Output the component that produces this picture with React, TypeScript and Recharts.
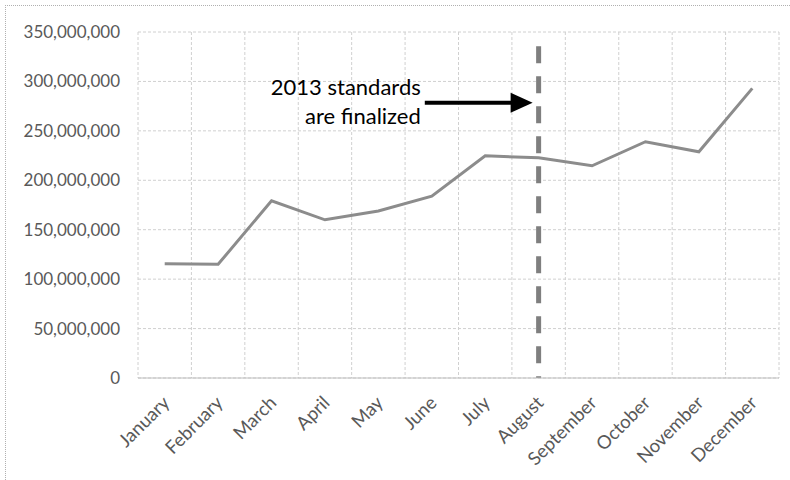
import React from "react";
import {
  LineChart,
  Line,
  XAxis,
  YAxis,
  CartesianGrid,
  ReferenceLine,
} from "recharts";

const months = [
  "January",
  "February",
  "March",
  "April",
  "May",
  "June",
  "July",
  "August",
  "September",
  "October",
  "November",
  "December",
];

const volumes = [
  115500000, 115000000, 179300000, 160000000, 169000000, 184000000,
  224800000, 222700000, 214700000, 239000000, 228800000, 293000000,
];

const yTicks = [0, 50000000, 100000000, 150000000, 200000000, 250000000, 300000000, 350000000];

const markerMonth = "August";
const arrowFrom = "June";
const arrowLevel = 278500000;
const markerTop = 335500000;
const noteLines = ["2013 standards", "are finalized"];

const data = months.map((m, i) => ({ month: m, value: volumes[i] }));

const FONT = "Lato, 'Open Sans', sans-serif";
const TEXT = "#595959";

// month labels: slanted, ending just under the point
function MonthTick({ x, y, payload }: any) {
  return (
    <text
      transform={`translate(${x + 6},${y + 26}) rotate(-45)`}
      textAnchor="end"
      fontFamily={FONT}
      fontSize={18.5}
      fill={TEXT}
    >
      {payload.value}
    </text>
  );
}

function ArrowShape(props: any) {
  const { x1, y1, x2 } = props;
  if (x1 == null || y1 == null) return null;
  const start = x1 - 7;
  const tip = x2 - 6;
  return (
    <g>
      <line x1={start} y1={y1} x2={tip - 20} y2={y1} stroke="#000" strokeWidth={4} />
      <polygon points={`${tip - 22},${y1 - 10} ${tip},${y1} ${tip - 22},${y1 + 10}`} fill="#000" />
      <text x={start - 4} y={y1 - 8} textAnchor="end" fontFamily={FONT} fontSize={22} fill="#000">
        {noteLines[0]}
      </text>
      <text x={start - 4} y={y1 + 21} textAnchor="end" fontFamily={FONT} fontSize={22} fill="#000">
        {noteLines[1]}
      </text>
    </g>
  );
}

export default function App() {
  return (
    <div
      style={{
        position: "fixed",
        left: 0,
        top: 0,
        width: 790,
        height: 480,
        overflow: "hidden",
        background: "#fff",
      }}
    >
      <div
        style={{
          position: "absolute",
          left: 5,
          top: 5,
          width: 900,
          height: 600,
          borderLeft: "1px dotted #b0b0b0",
          borderTop: "1px dotted #b0b0b0",
        }}
      />
      <div style={{ position: "absolute", left: 0, top: 0 }}>
        <LineChart
          width={790}
          height={480}
          data={data}
          margin={{ top: 32, right: 11, left: 0, bottom: 0 }}
        >
          <CartesianGrid
            stroke="#d0d0d0"
            strokeDasharray="3 2"
            verticalCoordinatesGenerator={({ offset }: any) => {
              const step = offset.width / months.length;
              return months.map((_, i) => offset.left + step * i).concat(offset.left + offset.width);
            }}
          />
          <XAxis
            dataKey="month"
            scale="band"
            interval={0}
            height={102}
            tickLine={false}
            tickSize={0}
            tickMargin={0}
            axisLine={{ stroke: "#bfbfbf" }}
            tick={<MonthTick />}
          />
          <YAxis
            width={138}
            domain={[0, 350000000]}
            ticks={yTicks}
            interval={0}
            axisLine={false}
            tickLine={false}
            tickMargin={12}
            tickFormatter={(v: number) => v.toLocaleString("en-US")}
            tick={{ fontSize: 17, fill: TEXT, fontFamily: FONT }}
          />
          <ReferenceLine
            segment={[
              { x: markerMonth, y: markerTop },
              { x: markerMonth, y: 0 },
            ]}
            stroke="#7f7f7f"
            strokeWidth={5}
            strokeDasharray="17 13"
          />
          <ReferenceLine
            segment={[
              { x: arrowFrom, y: arrowLevel },
              { x: markerMonth, y: arrowLevel },
            ]}
            shape={<ArrowShape />}
          />
          <Line
            type="linear"
            dataKey="value"
            stroke="#8c8c8c"
            strokeWidth={3}
            dot={false}
            activeDot={false}
            isAnimationActive={false}
          />
        </LineChart>
      </div>
    </div>
  );
}
